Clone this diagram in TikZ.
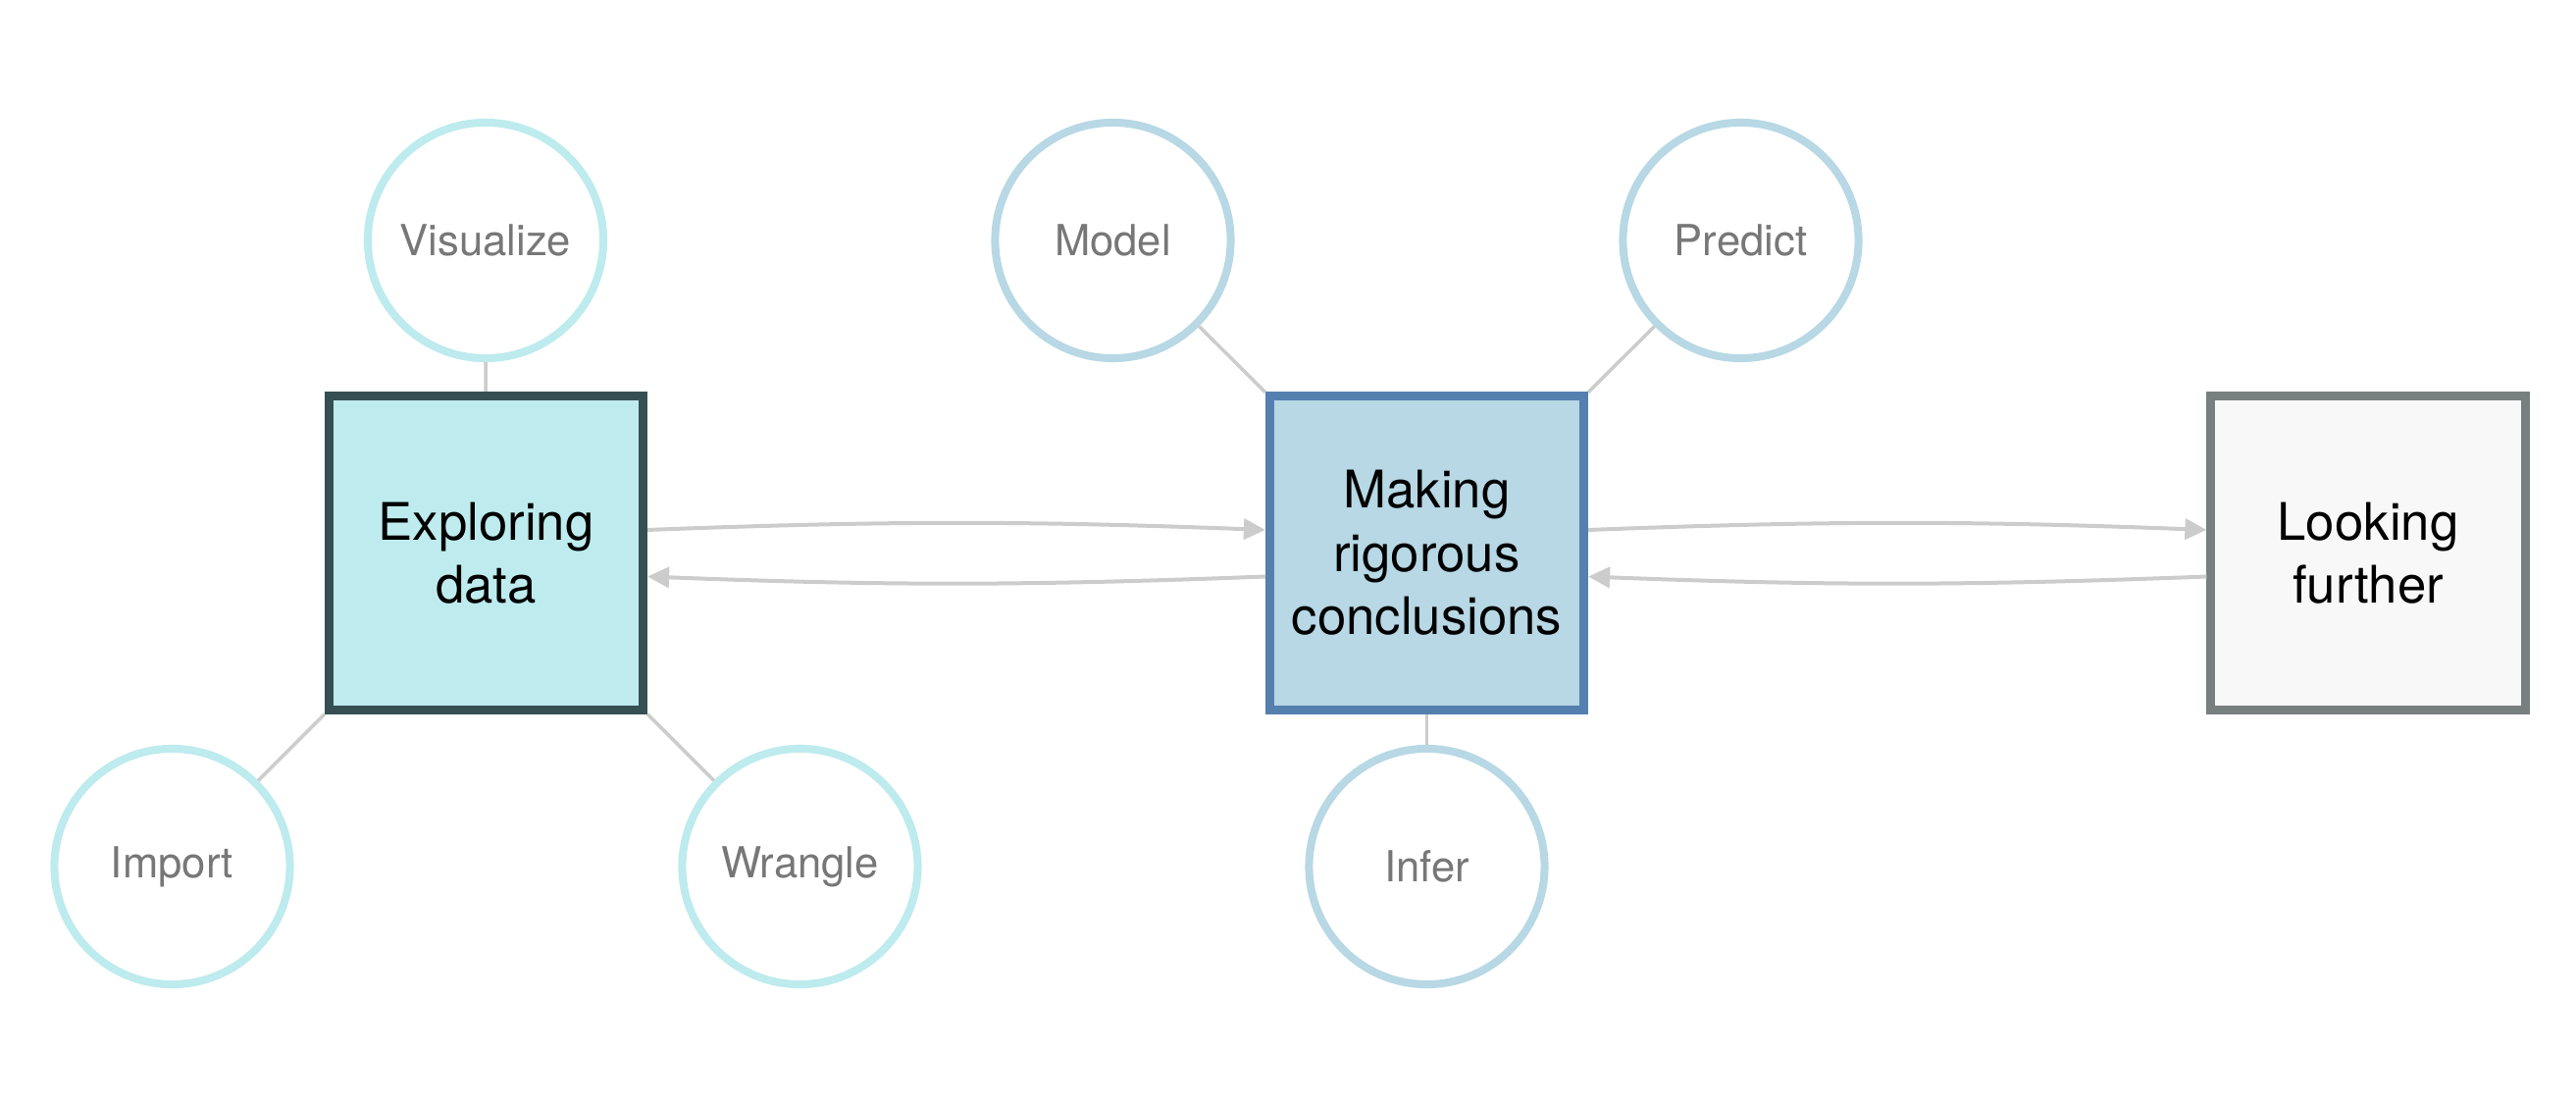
\documentclass[tikz,border=0pt]{standalone}
\usepackage{fontspec}
\setmainfont{TeX Gyre Heros}
\usetikzlibrary{arrows.meta}
\definecolor{cyanring}{HTML}{BDEBEE}
\definecolor{expfill}{HTML}{BEECEE}
\definecolor{expline}{HTML}{364F52}
\definecolor{blueRing}{HTML}{B7D8E4}
\definecolor{makfill}{HTML}{B7D8E4}
\definecolor{makline}{HTML}{557FAF}
\definecolor{lookfill}{HTML}{F8F8F8}
\definecolor{lookline}{HTML}{777F7F}
\definecolor{conn}{HTML}{CCCCCC}
\definecolor{ctext}{HTML}{777777}
\begin{document}
\begin{tikzpicture}[x=0.01cm,y=0.01cm,
  stagebox/.style={rectangle, minimum size=3.20cm, line width=0.09cm, text=black,
    align=center, font=\fontsize{15}{18.35}\selectfont, inner sep=0pt},
  taskcircle/.style={circle, minimum size=2.40cm, line width=0.08cm, fill=white,
    text=ctext, font=\fontsize{12.4}{15}\selectfont, inner sep=0pt},
  spoke/.style={draw=conn, line width=0.035cm},
  flow/.style={draw=conn, line width=0.04cm, -{Triangle[length=0.22cm, width=0.21cm]}}
]
\useasboundingbox (0,0) rectangle (2626,1127);
% stages
\node[stagebox, draw=expline, fill=expfill] (exp) at (495.5,563.5) {Exploring\\data};
\node[stagebox, draw=makline, fill=makfill] (mak) at (1454.5,563.5) {Making\\rigorous\\conclusions};
\node[stagebox, draw=lookline, fill=lookfill] (look) at (2414,563.5) {Looking\\further};
% tasks
\node[taskcircle, draw=cyanring] (vis) at (495,882) {Visualize};
\node[taskcircle, draw=cyanring] (imp) at (175.5,244) {Import};
\node[taskcircle, draw=cyanring] (wra) at (815.5,244) {Wrangle};
\node[taskcircle, draw=blueRing] (mod) at (1134.5,882) {Model};
\node[taskcircle, draw=blueRing] (pre) at (1774.5,882) {Predict};
\node[taskcircle, draw=blueRing] (inf) at (1454.5,244) {Infer};
% spokes
\draw[spoke] (vis) -- (exp);
\draw[spoke] (imp) -- (exp);
\draw[spoke] (wra) -- (exp);
\draw[spoke] (mod) -- (mak);
\draw[spoke] (pre) -- (mak);
\draw[spoke] (inf) -- (mak);
% flows
\draw[flow] ([yshift=0.235cm]exp.east) to[bend left=2.2] ([yshift=0.235cm]mak.west);
\draw[flow] ([yshift=-0.24cm]mak.west) to[bend left=2.2] ([yshift=-0.24cm]exp.east);
\draw[flow] ([yshift=0.235cm]mak.east) to[bend left=2.2] ([yshift=0.235cm]look.west);
\draw[flow] ([yshift=-0.24cm]look.west) to[bend left=2.2] ([yshift=-0.24cm]mak.east);
\end{tikzpicture}
\end{document}
